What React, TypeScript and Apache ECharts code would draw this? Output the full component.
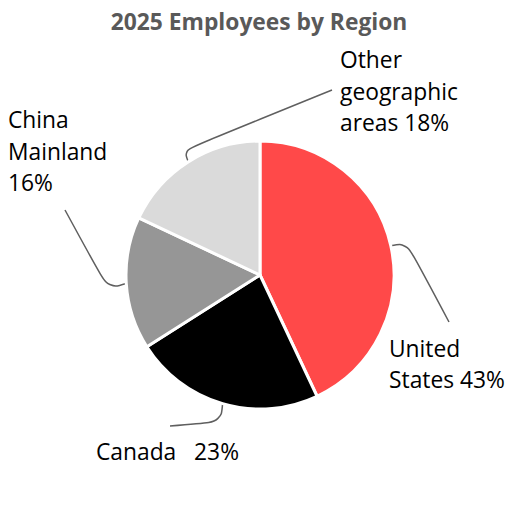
import React, { useEffect, useRef } from "react";
import * as echarts from "echarts";

const titleText = "2025 Employees by Region";
const regions = ["United\nStates", "Canada", "China\nMainland", "Other\ngeographic\nareas"];
const shares = [43, 23, 16, 18];
const separators = [" ", "   ", "\n", " "];
const colors = ["#FF4949", "#000000", "#969696", "#DADADA"];

// label anchors (left edge, vertical middle) and leader-line bend points
const labelPos = [
  [389, 364],
  [96, 451],
  [8, 151],
  [340, 91],
];
const leaderBends = [
  [[407, 243], [449, 322]],
  [[221, 422], [170, 426]],
  [[108, 289], [65, 210]],
  [[184, 150], [332, 90]],
];

const FONT = "'Open Sans', Carlito, Calibri, sans-serif";

export default function App() {
  const ref = useRef<HTMLDivElement>(null);
  useEffect(() => {
    if (!ref.current) return;
    const chart = echarts.init(ref.current, null, { renderer: "svg" });
    chart.setOption({
      animation: false,
      backgroundColor: "#ffffff",
      title: {
        text: titleText,
        left: "center",
        top: 5,
        textStyle: { fontFamily: FONT, fontSize: 22.8, fontWeight: "bold", color: "#595959" },
      },
      series: [
        {
          type: "pie",
          center: [260, 275],
          radius: 134,
          startAngle: 90,
          clockwise: true,
          avoidLabelOverlap: false,
          itemStyle: { borderColor: "#ffffff", borderWidth: 3 },
          label: {
            show: true,
            position: "outside",
            fontFamily: FONT,
            fontSize: 22.8,
            lineHeight: 31.5,
            color: "#000000",
            formatter: (p: any) =>
              `${regions[p.dataIndex]}${separators[p.dataIndex]}${Math.round(p.percent)}%`,
          },
          labelLine: {
            show: true,
            smooth: 0.4,
            lineStyle: { color: "#5f5f5f", width: 1.5 },
          },
          labelLayout: (params: any) => {
            const i = params.dataIndex;
            const start = params.labelLinePoints ? params.labelLinePoints[0] : leaderBends[i][0];
            return {
              x: labelPos[i][0],
              y: labelPos[i][1],
              align: "left",
              verticalAlign: "middle",
              labelLinePoints: [start, leaderBends[i][0], leaderBends[i][1]],
            };
          },
          data: shares.map((v, i) => ({
            value: v,
            name: regions[i].replace(/\n/g, " "),
            itemStyle: { color: colors[i] },
          })),
        },
      ],
    });
    return () => chart.dispose();
  }, []);
  return (
    <div
      ref={ref}
      style={{ position: "fixed", left: 0, top: 0, width: 518, height: 518 }}
    />
  );
}
